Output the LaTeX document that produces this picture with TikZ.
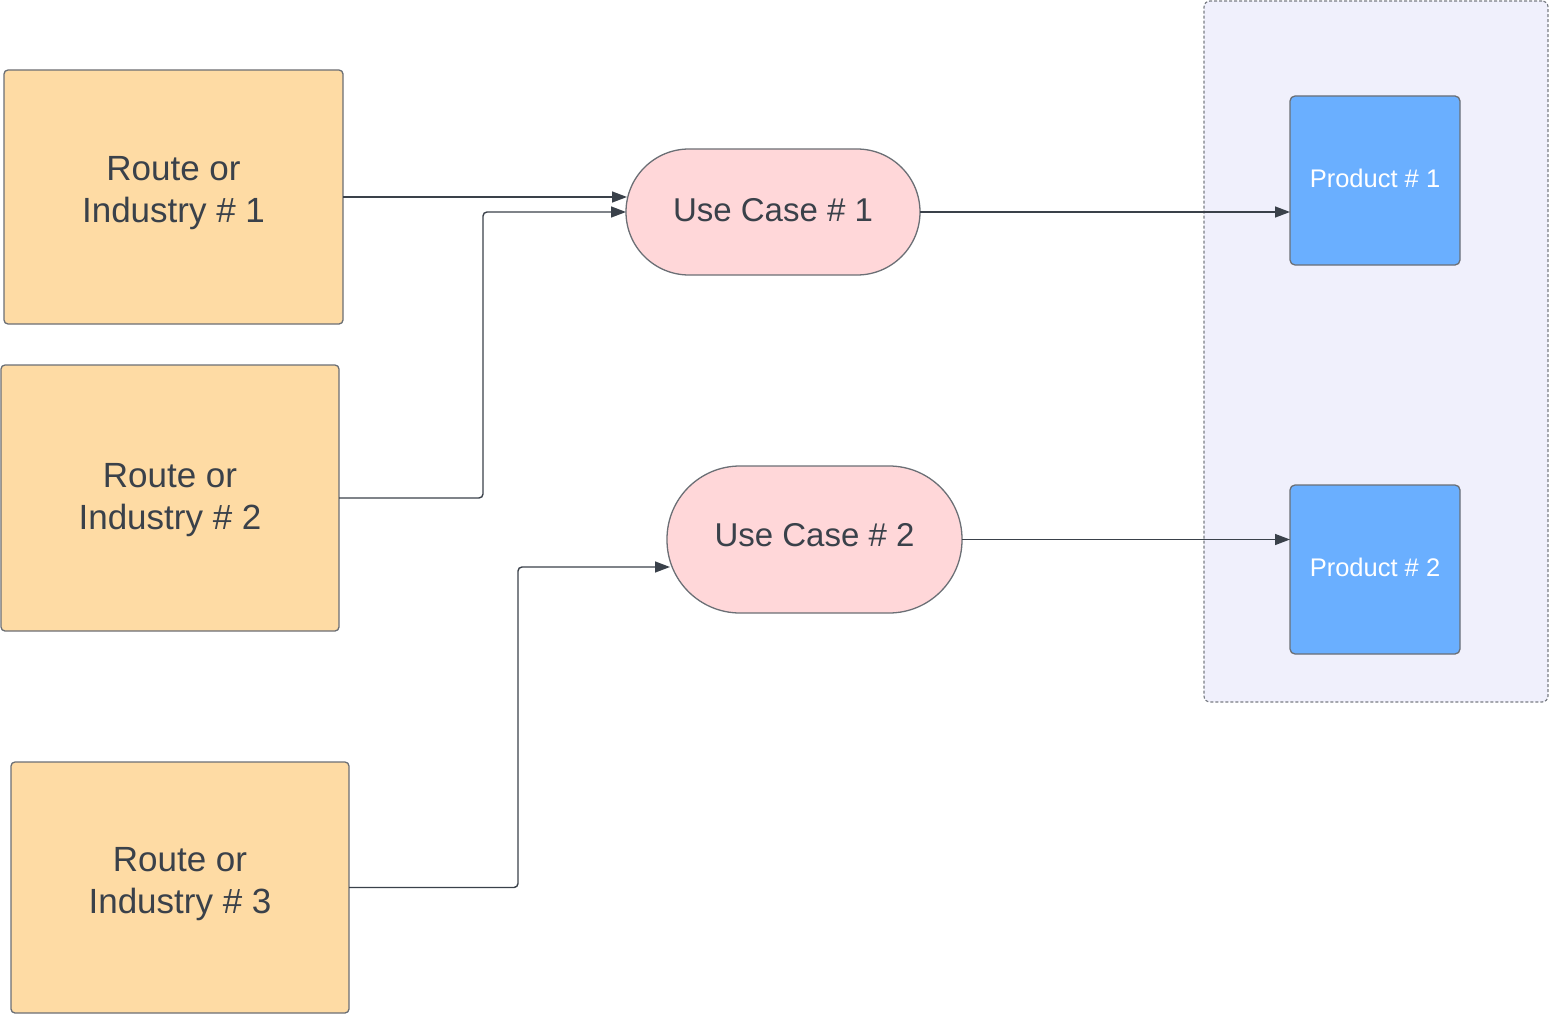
\documentclass[tikz,border=0pt]{standalone}
\usepackage{fontspec}
\setmainfont{Liberation Sans}
\usetikzlibrary{arrows.meta,calc}
\definecolor{txt}{HTML}{3A414A}
\definecolor{edge}{HTML}{6B6F75}
\definecolor{orangefill}{HTML}{FEDBA4}
\definecolor{pinkfill}{HTML}{FFD7D9}
\definecolor{bluefill}{HTML}{6AAFFF}
\definecolor{grpfill}{HTML}{F0F0FC}
\definecolor{grpline}{HTML}{7A7E85}
\tikzset{
  routebox/.style={draw=edge, line width=1.3pt, fill=orangefill, rounded corners=4pt,
    inner sep=0pt, outer sep=0pt, align=center, text=txt,
    font=\fontsize{35}{42}\selectfont},
  usecase/.style={draw=edge, line width=1.3pt, fill=pinkfill,
    inner sep=0pt, outer sep=0pt, align=center, text=txt,
    font=\fontsize{33}{42}\selectfont},
  product/.style={draw=edge, line width=1.3pt, fill=bluefill, rounded corners=5pt,
    inner sep=0pt, outer sep=0pt, align=center, text=white, text depth=4pt,
    font=\fontsize{25.5}{30}\selectfont, minimum width=170pt, minimum height=169pt},
  group/.style={draw=grpline, line width=1.2pt, dash pattern=on 3pt off 2pt,
    fill=grpfill, rounded corners=6pt, inner sep=0pt, outer sep=0pt},
  conn/.style={draw=txt, line width=1.4pt, rounded corners=4pt,
    -{Triangle[length=15pt,width=11pt]}},
}
\begin{document}
\begin{tikzpicture}[x=1pt,y=-1pt]
\useasboundingbox (0,0) rectangle (1550,1014);
% group container
\node[group, minimum width=344pt, minimum height=701pt] (grp) at (1376,351.5) {};
% route boxes
\node[routebox, text depth=15pt, minimum width=339pt, minimum height=254pt] (b1) at (173.5,197) {Route or\\Industry \# 1};
\node[routebox, text depth=3.5pt, minimum width=338pt, minimum height=266pt] (b2) at (170,498) {Route or\\Industry \# 2};
\node[routebox, text depth=15pt, minimum width=338pt, minimum height=251pt] (b3) at (180,887.5) {Route or\\Industry \# 3};
% use cases
\node[usecase, text depth=4pt, rounded corners=63pt, minimum width=294pt, minimum height=126pt] (u1) at (773,212) {Use Case \# 1};
\node[usecase, text depth=10pt, rounded corners=73pt, minimum width=295pt, minimum height=147pt] (u2) at (814.5,539.5) {Use Case \# 2};
% products
\node[product] (p1) at (1375,180.5) {Product \# 1};
\node[product] (p2) at (1375,569.5) {Product \# 2};
% connectors
\draw[conn] (b1.east) -- ($(u1.west)+(1,-15)$);
\draw[conn] (b2.east) -- ++(144,0) |- ($(u1.west)+(0,0)$);
\draw[conn] (b3.east) -- ++(169,0) |- ($(u2.west)+(3,27.5)$);
\draw[conn] (u1.east) -- (p1.west |- u1.east);
\draw[conn] (u2.east) -- (p2.west |- u2.east);
\end{tikzpicture}
\end{document}
